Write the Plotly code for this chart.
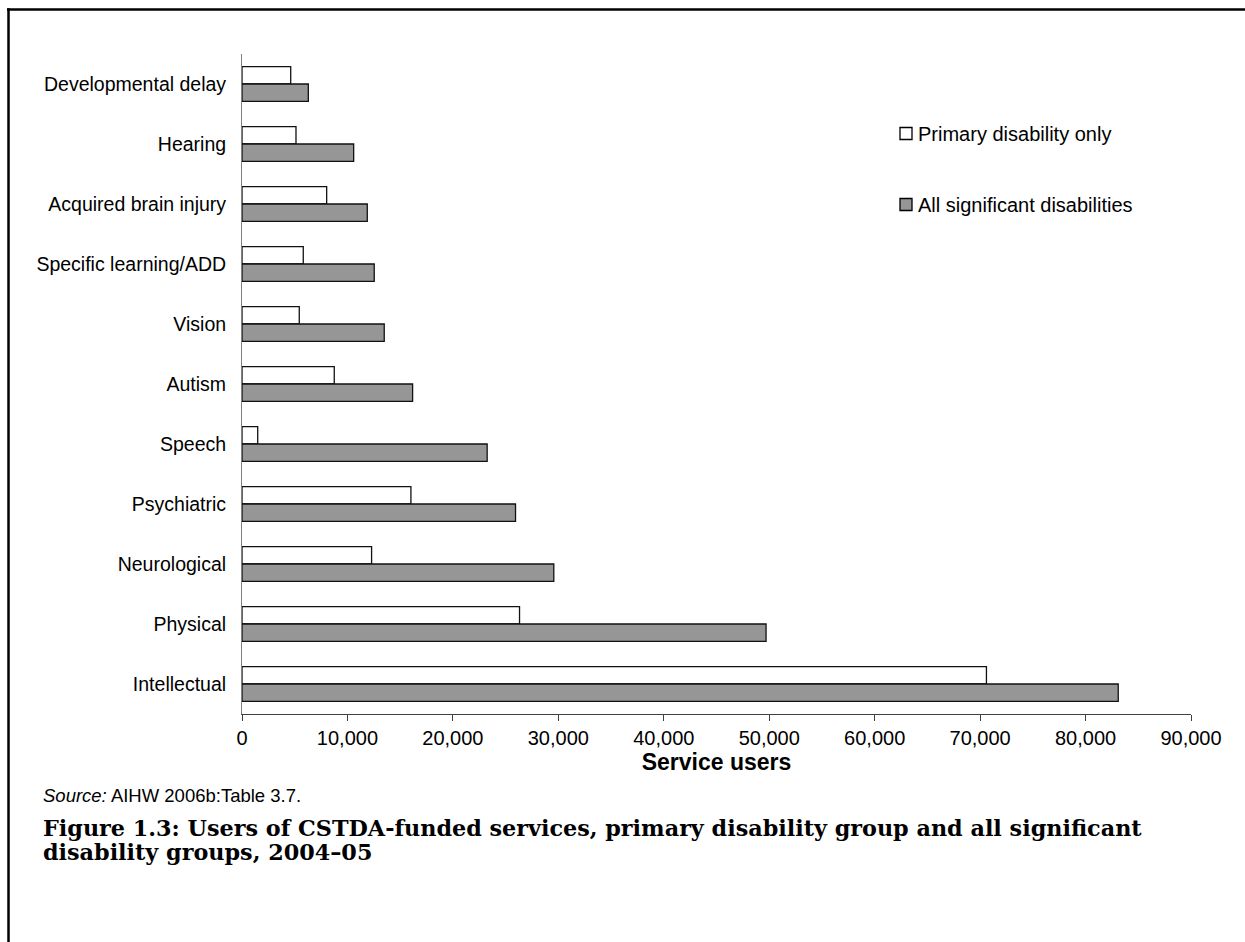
import plotly.graph_objects as go

# Disability groups, listed top to bottom
categories = [
    "Developmental delay",
    "Hearing",
    "Acquired brain injury",
    "Specific learning/ADD",
    "Vision",
    "Autism",
    "Speech",
    "Psychiatric",
    "Neurological",
    "Physical",
    "Intellectual",
]

# Service users, 2004-05
primary_only = [4620, 5120, 8030, 5810, 5430, 8750, 1490, 16020, 12290, 26320, 70600]
all_significant = [6290, 10590, 11880, 12540, 13490, 16180, 23250, 25940, 29570, 49700, 83100]

series_names = ["Primary disability only", "All significant disabilities"]
x_tick_values = [0, 10000, 20000, 30000, 40000, 50000, 60000, 70000, 80000, 90000]

W, H = 1245, 942
ML, MR, MT, MB = 242, 54, 54, 228
PW, PH = W - ML - MR, H - MT - MB

SANS = "Liberation Sans, Arial, sans-serif"
SERIF = "DejaVu Serif, serif"
GREY_FILL = "#969696"


def fx(px):
    return (px - ML) / PW


def fy(py):
    return (H - MB - py) / PH


fig = go.Figure()
fig.add_trace(go.Bar(
    y=categories, x=primary_only, orientation="h", name=series_names[0],
    marker=dict(color="white", line=dict(color="#111111", width=1.3)),
))
fig.add_trace(go.Bar(
    y=categories, x=all_significant, orientation="h", name=series_names[1],
    marker=dict(color=GREY_FILL, line=dict(color="#111111", width=1.3)),
))

fig.update_layout(
    width=W, height=H,
    margin=dict(l=ML, r=MR, t=MT, b=MB, autoexpand=False),
    paper_bgcolor="white", plot_bgcolor="white",
    barmode="group", bargap=0.42, bargroupgap=0,
    showlegend=False,
    font=dict(family=SANS, color="black", size=20),
)

fig.update_xaxes(
    range=[0, 90000], tickvals=x_tick_values, tickformat=",",
    showgrid=False, zeroline=False,
    showline=True, linecolor="#404040", linewidth=1,
    ticks="outside", ticklen=6, tickcolor="#404040", tickwidth=1,
    tickfont=dict(family=SANS, size=20, color="black"),
    title=dict(text="<b>Service users</b>", font=dict(family=SANS, size=23, color="black"), standoff=0),
)
fig.update_yaxes(
    autorange="reversed", showgrid=False, zeroline=False,
    showline=True, linecolor="#808080", linewidth=1,
    ticks="", ticklabelstandoff=11,
    tickfont=dict(family=SANS, size=19.5, color="black"),
)

shapes = []
# page frame: top rule and left rule
shapes.append(dict(type="line", xref="paper", yref="paper",
                   x0=fx(7), x1=fx(W), y0=fy(9.5), y1=fy(9.5),
                   line=dict(color="black", width=2.5)))
shapes.append(dict(type="line", xref="paper", yref="paper",
                   x0=fx(8.5), x1=fx(8.5), y0=fy(8.3), y1=fy(H),
                   line=dict(color="black", width=2.5)))

# legend keys
legend_rows = [(133.5, "white"), (204.5, GREY_FILL)]
annotations = []
for (cy, fill), label in zip(legend_rows, series_names):
    shapes.append(dict(type="rect", xref="paper", yref="paper",
                       x0=fx(900), x1=fx(912), y0=fy(cy - 6), y1=fy(cy + 6),
                       fillcolor=fill, line=dict(color="black", width=1.3)))
    annotations.append(dict(xref="paper", yref="paper", x=fx(916), y=fy(cy),
                            xanchor="left", yanchor="middle", showarrow=False,
                            text=label, font=dict(family=SANS, size=20, color="black")))

annotations.append(dict(xref="paper", yref="paper", x=fx(41), y=fy(795),
                        xanchor="left", yanchor="middle", showarrow=False,
                        text="<i>Source:</i> AIHW 2006b:Table 3.7.",
                        font=dict(family=SANS, size=18.5, color="black")))

caption_lines = [
    "Figure 1.3: Users of CSTDA-funded services, primary disability group and all significant",
    "disability groups, 2004\u201305",
]
for cy, line in zip([828, 852], caption_lines):
    annotations.append(dict(xref="paper", yref="paper", x=fx(41), y=fy(cy),
                            xanchor="left", yanchor="middle", showarrow=False,
                            text="<b>" + line + "</b>",
                            font=dict(family=SERIF, size=22.3, color="black")))

fig.update_layout(shapes=shapes, annotations=annotations)

fig.write_html("out.html")
